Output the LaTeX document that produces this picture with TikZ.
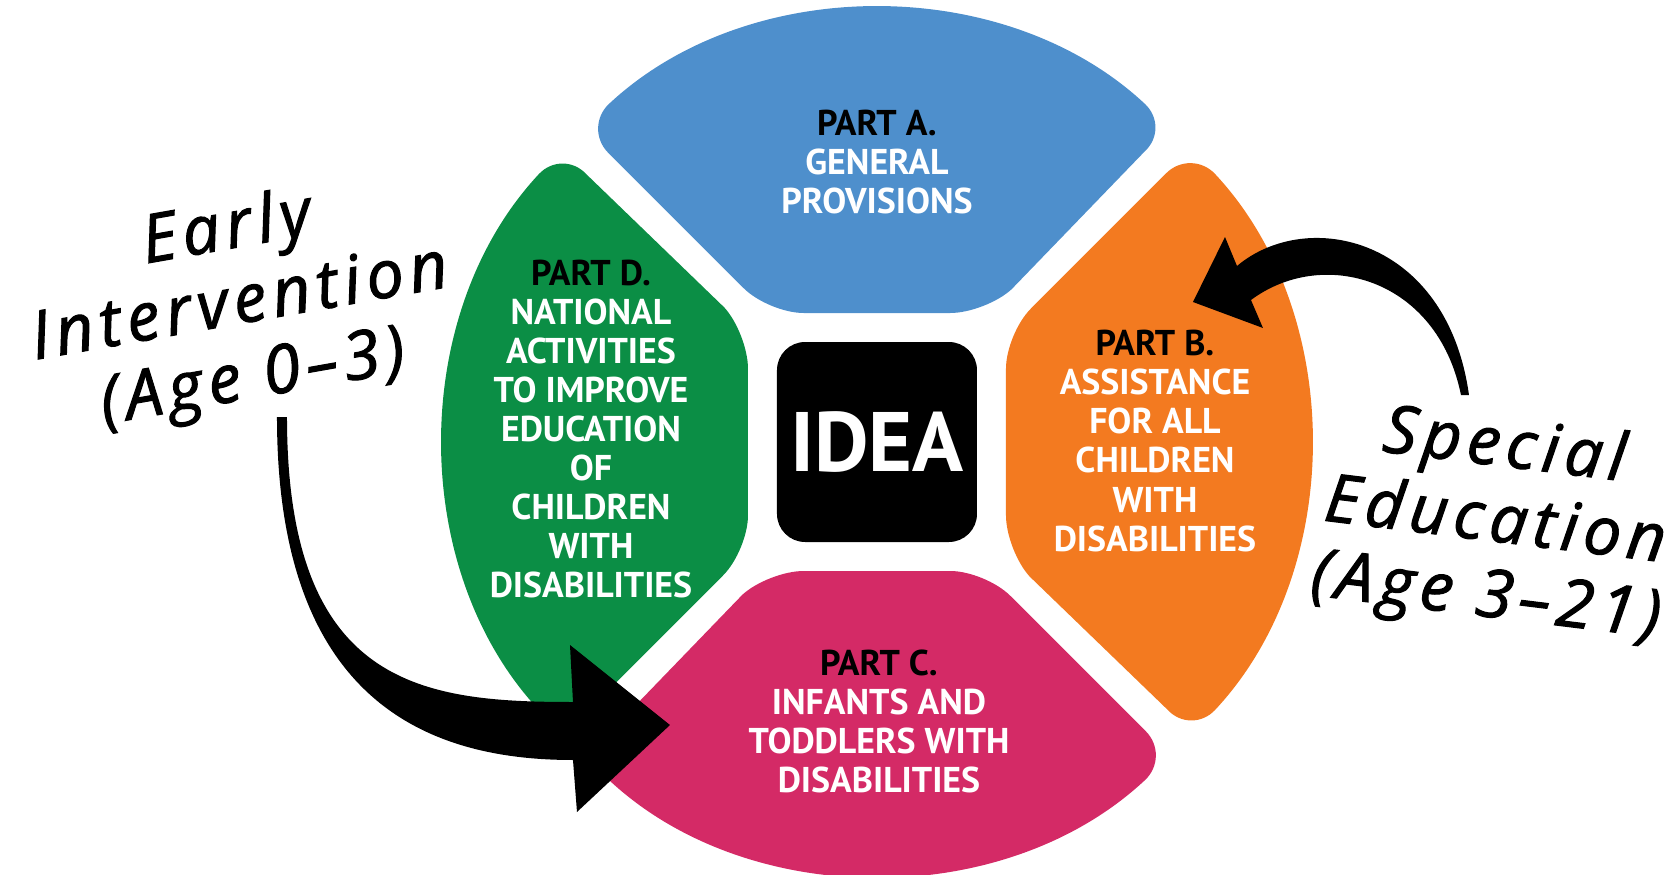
\documentclass[tikz,border=0pt]{standalone}
\usepackage{fontspec}
\usepackage{xcolor}
\usepackage{tikz}
\newfontfamily\partfont{PT Sans}
\newfontfamily\handfont{Open Sans}[LetterSpace=9,FakeBold=1.6]
\definecolor{partA}{HTML}{4E8FCC}
\definecolor{partB}{HTML}{F37A20}
\definecolor{partC}{HTML}{D42A66}
\definecolor{partD}{HTML}{0B8E45}
\tikzset{
  parttext/.style={align=center,text=white,font=\partfont\bfseries\fontsize{10.2}{11.1}\selectfont},
  handtext/.style={align=center,font=\handfont\itshape\fontsize{19}{21.5}\selectfont},
  brush/.style={fill=black}
}

\begin{document}
\begin{tikzpicture}
  \useasboundingbox (-8.77,-4.32) rectangle (7.99,4.42);

  % Sectors
  \foreach \ang/\col in {0/partA,90/partD,180/partC,270/partB}
    \fill[\col,rotate=\ang,rounded corners=10pt] (1.085,1.29) -- (2.936,3.141)
      arc[start angle=46.93,end angle=133.07,radius=4.3] -- (-1.085,1.29) -- cycle;

  % Centre
  \node[fill=black,rounded corners=8pt,minimum size=2cm,text=white,
        font=\partfont\bfseries\fontsize{24}{26}\selectfont] (idea) at (0,0) {IDEA};

  % Parts
  \node[parttext] (general) at (0,2.80) {\textcolor{black}{PART A.}\\GENERAL\\PROVISIONS};
  \node[parttext] (assist) at (2.78,0.01) {\textcolor{black}{PART B.}\\ASSISTANCE\\FOR ALL\\CHILDREN\\WITH\\DISABILITIES};
  \node[parttext] (infants) at (0.02,-2.79) {\textcolor{black}{PART C.}\\INFANTS AND\\TODDLERS WITH\\DISABILITIES};
  \node[parttext] (national) at (-2.86,0.13) {\textcolor{black}{PART D.}\\NATIONAL\\ACTIVITIES\\TO IMPROVE\\EDUCATION\\OF\\CHILDREN\\WITH\\DISABILITIES};

  % Hand-written labels
  \node[handtext,rotate=10] (early) at (-6.37,1.36) {Early\\Intervention\\(Age 0–3)};
  \node[handtext,rotate=-7] (special) at (6.18,-0.82) {Special\\Education\\(Age 3–21)};

  % Brush arrows
  \coordinate (ei-tail) at (-5.95,0.25);
  \coordinate (ei-tip) at (-2.07,-2.83);
  \fill[brush] ([xshift=-0.05cm]ei-tail) .. controls +(0,-2.8) and +(-1.5,0) .. (-3.04,-3.18)
    -- (-3.00,-3.70) -- (ei-tip) -- (-3.07,-2.03) -- (-3.04,-2.60)
    .. controls +(-1.5,0) and +(0,-2.7) .. ([xshift=0.05cm]ei-tail) -- cycle;

  \coordinate (se-tail) at (5.88,0.47);
  \coordinate (se-tip) at (3.16,1.40);
  \fill[brush] ([xshift=0.04cm]se-tail) .. controls +(-0.22,1.58) and +(0.70,0.59) .. (3.60,1.76)
    -- (3.48,2.05) -- (se-tip) -- (3.86,1.14) -- (3.74,1.42)
    .. controls +(0.71,0.53) and +(-0.24,1.18) .. ([xshift=-0.04cm]se-tail) -- cycle;
\end{tikzpicture}
\end{document}
